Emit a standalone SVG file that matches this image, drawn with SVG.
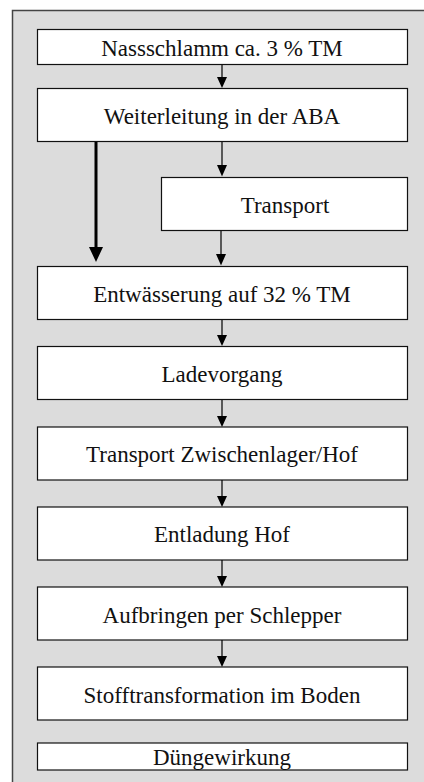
<svg xmlns="http://www.w3.org/2000/svg" width="424" height="782" viewBox="0 0 424 782">
<style>
.frame{fill:#dcdcdc;stroke:#444;stroke-width:1.5}
.box{fill:#fff;stroke:#111;stroke-width:1.2}
.lbl{font-family:"Liberation Serif","Times New Roman",serif;font-size:23px;fill:#111;text-anchor:middle}
.ln{stroke:#000;stroke-width:1.2;fill:none}
.thick{stroke:#000;stroke-width:3;fill:none}
.head{fill:#000}
</style>
<rect class="frame" x="12.5" y="10.5" width="430" height="800"/>
<g id="n1"><rect class="box" x="37.5" y="29.5" width="370" height="35"/><text class="lbl" x="222" y="56">Nassschlamm ca. 3 % TM</text></g>
<g id="n2"><rect class="box" x="37.5" y="88.5" width="370" height="53"/><text class="lbl" x="222" y="123.5">Weiterleitung in der ABA</text></g>
<g id="n3"><rect class="box" x="161.5" y="177.5" width="246" height="53"/><text class="lbl" x="285" y="213">Transport</text></g>
<g id="n4"><rect class="box" x="37.5" y="266.5" width="370" height="53"/><text class="lbl" x="222" y="301.5">Entwässerung auf 32 % TM</text></g>
<g id="n5"><rect class="box" x="37.5" y="346.5" width="370" height="53"/><text class="lbl" x="222" y="382">Ladevorgang</text></g>
<g id="n6"><rect class="box" x="37.5" y="427" width="370" height="53"/><text class="lbl" x="222" y="461.5">Transport Zwischenlager/Hof</text></g>
<g id="n7"><rect class="box" x="37.5" y="507" width="370" height="53"/><text class="lbl" x="222" y="542">Entladung Hof</text></g>
<g id="n8"><rect class="box" x="37.5" y="587" width="370" height="53"/><text class="lbl" x="222" y="623">Aufbringen per Schlepper</text></g>
<g id="n9"><rect class="box" x="37.5" y="667" width="370" height="53"/><text class="lbl" x="222" y="702.5">Stofftransformation im Boden</text></g>
<g id="n10"><rect class="box" x="37.5" y="743" width="370" height="27"/><text class="lbl" x="222" y="764.5">Düngewirkung</text></g>
<g id="connectors">
<line class="ln" x1="222" y1="65" x2="222" y2="78"/><path class="head" d="M217,77 L227,77 L222,88 Z"/>
<line class="ln" x1="222" y1="142" x2="222" y2="166"/><path class="head" d="M217,165 L227,165 L222,176.5 Z"/>
<line class="ln" x1="221" y1="231" x2="221" y2="255"/><path class="head" d="M216,254 L226,254 L221,265.5 Z"/>
<line class="ln" x1="222" y1="320" x2="222" y2="336"/><path class="head" d="M217,335 L227,335 L222,346 Z"/>
<line class="ln" x1="222" y1="400" x2="222" y2="417"/><path class="head" d="M217,416 L227,416 L222,427 Z"/>
<line class="ln" x1="222" y1="480" x2="222" y2="497"/><path class="head" d="M217,496 L227,496 L222,507 Z"/>
<line class="ln" x1="222" y1="560" x2="222" y2="577"/><path class="head" d="M217,576 L227,576 L222,587 Z"/>
<line class="ln" x1="222" y1="640" x2="222" y2="657"/><path class="head" d="M217,656 L227,656 L222,667 Z"/>
<line class="thick" x1="96" y1="142" x2="96" y2="249"/><path class="head" d="M89,247 L103,247 L96,262 Z"/>
</g>
</svg>
